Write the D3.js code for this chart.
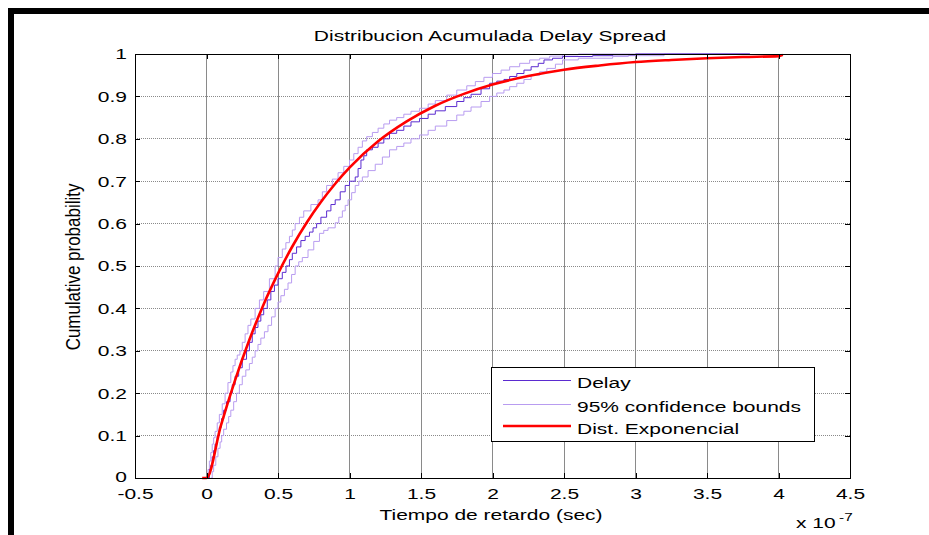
<!DOCTYPE html>
<html>
<head>
<meta charset="utf-8">
<script src="https://cdn.jsdelivr.net/npm/d3@7"></script>
<style>
  html, body { margin: 0; padding: 0; background: #fff; }
  svg { display: block; font-family: "Liberation Sans", Arial, sans-serif; }
</style>
</head>
<body>
<svg id="chart" width="929" height="535"></svg>
<script>
// ---------------- data (x in units of 1e-7 s) ----------------
const xTicks = [-0.5, 0, 0.5, 1, 1.5, 2, 2.5, 3, 3.5, 4, 4.5];
const yTicks = [0, 0.1, 0.2, 0.3, 0.4, 0.5, 0.6, 0.7, 0.8, 0.9, 1];

// Empirical CDF "Delay" (step vertices)
const delayX = [0.01, 0.02, 0.03, 0.04, 0.05, 0.06, 0.075, 0.09, 0.105, 0.12, 0.14, 0.165, 0.18, 0.2, 0.225, 0.25, 0.28, 0.3, 0.32, 0.34, 0.36, 0.38, 0.40, 0.425, 0.45, 0.475, 0.50, 0.53, 0.556, 0.58, 0.60, 0.63, 0.66, 0.69, 0.72, 0.745, 0.77, 0.8, 0.84, 0.87, 0.90, 0.935, 0.97, 1.0, 1.04, 1.06, 1.08, 1.1, 1.12, 1.16, 1.2, 1.24, 1.28, 1.33, 1.38, 1.43, 1.49, 1.55, 1.6, 1.67, 1.75, 1.8, 1.85, 1.92, 1.98, 2.03, 2.08, 2.12, 2.17, 2.22, 2.27, 2.32, 2.36, 2.42, 2.49, 2.7, 2.84, 3.0, 3.8];
const delayY = [0, 0.02, 0.03, 0.05, 0.065, 0.08, 0.1, 0.12, 0.14, 0.16, 0.18, 0.2, 0.22, 0.24, 0.26, 0.28, 0.3, 0.32, 0.34, 0.355, 0.37, 0.385, 0.40, 0.42, 0.44, 0.455, 0.47, 0.485, 0.50, 0.515, 0.53, 0.545, 0.56, 0.57, 0.58, 0.59, 0.60, 0.615, 0.63, 0.645, 0.656, 0.675, 0.69, 0.70, 0.71, 0.73, 0.75, 0.76, 0.774, 0.78, 0.79, 0.80, 0.813, 0.82, 0.83, 0.84, 0.848, 0.858, 0.866, 0.876, 0.888, 0.897, 0.905, 0.918, 0.931, 0.936, 0.94, 0.947, 0.954, 0.962, 0.97, 0.978, 0.986, 0.99, 0.994, 0.996, 0.998, 1.0, 1.0];

// 95% confidence bounds (upper and lower)
const upperX = [0.0, 0.01, 0.02, 0.03, 0.04, 0.05, 0.06, 0.075, 0.09, 0.11, 0.13, 0.15, 0.17, 0.185, 0.2, 0.215, 0.234, 0.25, 0.27, 0.29, 0.31, 0.34, 0.37, 0.4, 0.44, 0.48, 0.5, 0.53, 0.555, 0.58, 0.6, 0.62, 0.65, 0.68, 0.73, 0.78, 0.81, 0.84, 0.88, 0.92, 0.96, 1.0, 1.03, 1.06, 1.09, 1.12, 1.16, 1.2, 1.24, 1.28, 1.33, 1.38, 1.43, 1.49, 1.55, 1.6, 1.68, 1.75, 1.82, 1.88, 1.94, 2.0, 2.06, 2.12, 2.19, 2.26, 2.33, 2.4, 2.49, 2.6, 3.8];
const upperY = [0, 0.02, 0.04, 0.06, 0.08, 0.095, 0.11, 0.13, 0.15, 0.175, 0.2, 0.225, 0.25, 0.265, 0.28, 0.29, 0.3, 0.32, 0.34, 0.36, 0.375, 0.4, 0.42, 0.44, 0.47, 0.5, 0.52, 0.54, 0.555, 0.57, 0.585, 0.6, 0.615, 0.63, 0.645, 0.656, 0.675, 0.69, 0.705, 0.72, 0.735, 0.75, 0.765, 0.78, 0.795, 0.805, 0.815, 0.825, 0.835, 0.844, 0.85, 0.858, 0.865, 0.872, 0.882, 0.89, 0.903, 0.915, 0.925, 0.935, 0.945, 0.954, 0.962, 0.97, 0.978, 0.986, 0.99, 0.995, 0.998, 1.0, 1.0];
const lowerX = [0.03, 0.04, 0.05, 0.065, 0.08, 0.095, 0.106, 0.12, 0.14, 0.155, 0.17, 0.19, 0.21, 0.23, 0.25, 0.275, 0.3, 0.32, 0.34, 0.36, 0.38, 0.405, 0.43, 0.455, 0.48, 0.5, 0.52, 0.545, 0.57, 0.595, 0.62, 0.645, 0.67, 0.71, 0.75, 0.79, 0.82, 0.85, 0.9, 0.925, 0.95, 0.97, 0.99, 1.015, 1.04, 1.065, 1.09, 1.13, 1.18, 1.23, 1.28, 1.33, 1.38, 1.43, 1.49, 1.55, 1.6, 1.68, 1.75, 1.8, 1.85, 1.92, 1.98, 2.03, 2.08, 2.12, 2.17, 2.22, 2.27, 2.33, 2.38, 2.44, 2.49, 2.6, 2.84, 2.95, 3.2, 3.8];
const lowerY = [0, 0.015, 0.03, 0.05, 0.07, 0.085, 0.1, 0.115, 0.13, 0.145, 0.16, 0.18, 0.2, 0.22, 0.24, 0.255, 0.27, 0.285, 0.3, 0.315, 0.33, 0.345, 0.36, 0.38, 0.4, 0.415, 0.43, 0.445, 0.46, 0.48, 0.5, 0.51, 0.52, 0.538, 0.558, 0.577, 0.584, 0.59, 0.602, 0.615, 0.63, 0.643, 0.656, 0.673, 0.69, 0.7, 0.71, 0.725, 0.74, 0.757, 0.774, 0.782, 0.79, 0.8, 0.809, 0.82, 0.83, 0.843, 0.856, 0.865, 0.875, 0.888, 0.9, 0.908, 0.915, 0.923, 0.931, 0.94, 0.95, 0.958, 0.966, 0.976, 0.986, 0.99, 0.994, 0.996, 1.0, 1.0];

// Fitted exponential distribution
const expX = [-0.03, 0, 0.1, 0.2, 0.3, 0.4, 0.5, 0.6, 0.7, 0.8, 0.9, 1.0, 1.2, 1.4, 1.6, 1.8, 2.0, 2.25, 2.5, 2.75, 3.0, 3.25, 3.5, 3.75, 4.0, 4.03];
const expY = [0, 0, 0.123, 0.231, 0.326, 0.41, 0.482, 0.546, 0.602, 0.651, 0.694, 0.732, 0.794, 0.841, 0.878, 0.906, 0.928, 0.948, 0.963, 0.973, 0.981, 0.986, 0.99, 0.993, 0.995, 0.998];

const legendLabels = ["Delay", "95% confidence bounds", "Dist. Exponencial"];
const titleText = "Distribucion Acumulada Delay Spread";
const xLabelText = "Tiempo de retardo (sec)";
const yLabelText = "Cumulative probability";

// ---------------- drawing ----------------
const svg = d3.select("#chart");
const SX = 1.4; // horizontal stretch of the exported figure text
const FS = 15;
const colDelay = "#5b2bd0", colBound = "#b89cf0", colExp = "#ff0000";

const x = d3.scaleLinear().domain([-0.5, 4.5]).range([135, 850]);
const y = d3.scaleLinear().domain([0, 1]).range([478, 54]);

// outer frame (black bars)
svg.append("rect").attr("x", 8).attr("y", 8).attr("width", 921).attr("height", 6).attr("fill", "#000");
svg.append("rect").attr("x", 8).attr("y", 8).attr("width", 6).attr("height", 527).attr("fill", "#000");

// grid
const grid = svg.append("g");
grid.selectAll("line.vg").data(xTicks.slice(1, -1)).join("line")
  .attr("x1", d => x(d)).attr("x2", d => x(d)).attr("y1", y(0)).attr("y2", y(1))
  .attr("stroke", "#8a8a8a").attr("stroke-width", 1).attr("shape-rendering", "crispEdges");
grid.selectAll("line.hg").data(yTicks.slice(1, -1)).join("line")
  .attr("x1", x(-0.5)).attr("x2", x(4.5)).attr("y1", d => y(d)).attr("y2", d => y(d))
  .attr("stroke", "#8a8a8a").attr("stroke-width", 1).attr("stroke-dasharray", "1,1").attr("shape-rendering", "crispEdges");

// curves
const stepLine = (xs, ys) => d3.line().x((d, i) => x(xs[i])).y((d, i) => y(ys[i])).curve(d3.curveStepAfter)(xs);
const plot = svg.append("g");
plot.append("path").attr("d", stepLine(upperX, upperY)).attr("fill", "none").attr("stroke", colBound).attr("stroke-width", 1);
plot.append("path").attr("d", stepLine(lowerX, lowerY)).attr("fill", "none").attr("stroke", colBound).attr("stroke-width", 1);
plot.append("path").attr("d", stepLine(delayX, delayY)).attr("fill", "none").attr("stroke", colDelay).attr("stroke-width", 1);
const expLine = d3.line().x((d, i) => x(expX[i])).y((d, i) => y(expY[i])).curve(d3.curveMonotoneX);
plot.append("path").attr("d", expLine(expX)).attr("fill", "none").attr("stroke", colExp).attr("stroke-width", 2.6).attr("stroke-linejoin", "round");

// axes (inward ticks on all four sides)
const fmt = d => String(d);
const gB = svg.append("g").attr("transform", `translate(0,${y(0)})`)
  .call(d3.axisBottom(x).tickValues(xTicks).tickSizeInner(-5).tickSizeOuter(0).tickPadding(10).tickFormat(fmt));
const gT = svg.append("g").attr("transform", `translate(0,${y(1)})`)
  .call(d3.axisTop(x).tickValues(xTicks).tickSizeInner(-5).tickSizeOuter(0).tickFormat(""));
const gL = svg.append("g").attr("transform", `translate(${x(-0.5)},0)`)
  .call(d3.axisLeft(y).tickValues(yTicks).tickSizeInner(-5).tickSizeOuter(0).tickPadding(8).tickFormat(fmt));
const gR = svg.append("g").attr("transform", `translate(${x(4.5)},0)`)
  .call(d3.axisRight(y).tickValues(yTicks).tickSizeInner(-5).tickSizeOuter(0).tickFormat(""));
[gB, gT, gL, gR].forEach(g => {
  g.select(".domain").attr("stroke", "#000").attr("stroke-width", 1).attr("shape-rendering", "crispEdges");
  g.selectAll(".tick line").attr("stroke", "#000").attr("shape-rendering", "crispEdges");
  g.selectAll("text").attr("font-size", FS).attr("fill", "#000").attr("font-family", "Liberation Sans, Arial, sans-serif");
});
gB.selectAll(".tick text").attr("transform", `scale(${SX},1)`);
gL.selectAll(".tick text").attr("x", 0).attr("transform", `translate(-8,0) scale(${SX},1)`);
// lift the lowest y label a touch so it does not collide with "-0.5"
gL.selectAll(".tick text").filter(d => d === 0).attr("dy", "0.2em");

// titles
function stretchedText(tx, ty, str, opts = {}) {
  return svg.append("text")
    .attr("transform", `translate(${tx},${ty}) scale(${SX},${opts.sy || 1})${opts.rot ? " rotate(" + opts.rot + ")" : ""}`)
    .attr("text-anchor", opts.anchor || "middle")
    .attr("font-size", opts.fs || FS).attr("fill", "#000")
    .text(str);
}
stretchedText(490, 40.5, titleText);
stretchedText(491, 520, xLabelText);
stretchedText(80, 267, yLabelText, { rot: -90, sy: 1.13 });
stretchedText(796, 528, "x 10", { anchor: "start" });
stretchedText(839, 521, "-7", { anchor: "start", fs: 11 });

// legend
const lg = svg.append("g");
lg.append("rect").attr("x", 491.5).attr("y", 367.5).attr("width", 323).attr("height", 74)
  .attr("fill", "#fff").attr("stroke", "#000").attr("stroke-width", 1);
const legendStyles = [
  { c: colDelay, w: 1 },
  { c: colBound, w: 1 },
  { c: colExp, w: 2.6 }
];
const rowY = [380.5, 404.5, 426];
legendLabels.forEach((lab, i) => {
  lg.append("line").attr("x1", 503).attr("x2", 571).attr("y1", rowY[i]).attr("y2", rowY[i])
    .attr("stroke", legendStyles[i].c).attr("stroke-width", legendStyles[i].w);
  lg.append("text")
    .attr("transform", `translate(577,${rowY[i] + 7.5}) scale(${SX},1)`)
    .attr("font-size", FS).attr("fill", "#000").text(lab);
});
</script>
</body>
</html>
